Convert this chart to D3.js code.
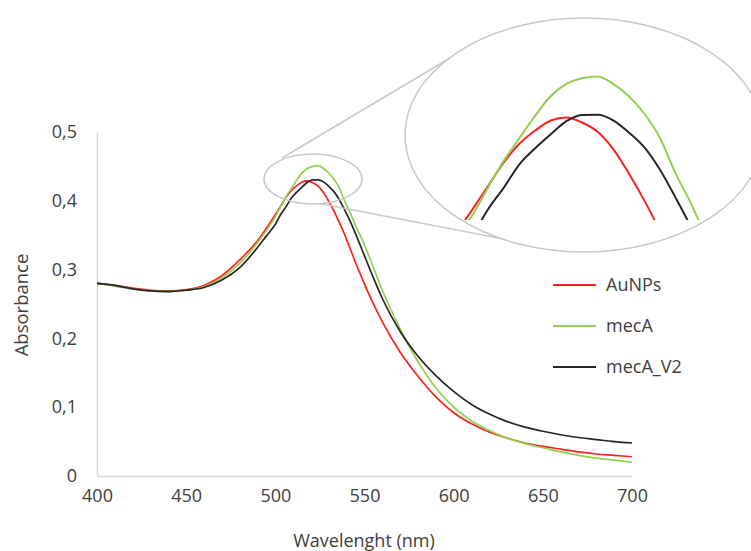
<!DOCTYPE html>
<html>
<head>
<meta charset="utf-8">
<script src="https://cdn.jsdelivr.net/npm/d3@7"></script>
<style>
  body { margin: 0; background: #fff; }
  text { font-family: "Open Sans", sans-serif; fill: #404040; }
</style>
</head>
<body>
<div id="chart"></div>
<script>
// wavelengths (nm), denser around the plasmon peak
const wavelengths = [400, 410, 420, 430, 440, 450, 460, 470, 480, 490, 495, 500, 503, 506, 509, 512, 515, 518, 521, 524, 527, 530, 533, 536, 539, 542, 545, 550, 555, 560, 570, 580, 590, 600, 610, 620, 630, 640, 650, 660, 670, 680, 690, 700]

const auNPs = [0.280, 0.277, 0.273, 0.270, 0.269, 0.271, 0.277, 0.291, 0.314, 0.342, 0.360, 0.380, 0.3925, 0.405, 0.415, 0.422, 0.4274, 0.429, 0.4263, 0.4213, 0.412, 0.399, 0.3844, 0.368, 0.350, 0.330, 0.310, 0.279, 0.250, 0.224, 0.180, 0.145, 0.115, 0.092, 0.076, 0.064, 0.055, 0.048, 0.043, 0.039, 0.035, 0.032, 0.030, 0.028]
const mecA = [0.280, 0.276, 0.272, 0.269, 0.268, 0.270, 0.275, 0.288, 0.309, 0.339, 0.357, 0.377, 0.3917, 0.406, 0.418, 0.430, 0.4405, 0.447, 0.4501, 0.451, 0.447, 0.4404, 0.431, 0.418, 0.399, 0.3826, 0.364, 0.336, 0.303, 0.270, 0.214, 0.166, 0.128, 0.100, 0.080, 0.066, 0.055, 0.047, 0.041, 0.035, 0.030, 0.026, 0.023, 0.020]
const mecA_V2 = [0.280, 0.277, 0.272, 0.269, 0.268, 0.270, 0.274, 0.285, 0.303, 0.332, 0.349, 0.366, 0.380, 0.3915, 0.404, 0.4125, 0.420, 0.427, 0.4303, 0.4305, 0.4275, 0.421, 0.413, 0.401, 0.386, 0.370, 0.352, 0.320, 0.288, 0.258, 0.210, 0.174, 0.146, 0.123, 0.104, 0.090, 0.079, 0.071, 0.065, 0.060, 0.056, 0.053, 0.050, 0.048]

const seriesNames = ["AuNPs", "mecA", "mecA_V2"]
const seriesColors = ["#ff2020", "#92d050", "#262626"]

const xTicks = [400, 450, 500, 550, 600, 650, 700]
const yTicks = [0, 0.1, 0.2, 0.3, 0.4, 0.5]
const yTickLabels = ["0", "0,1", "0,2", "0,3", "0,4", "0,5"]

const width = 751
const height = 551
const marginTop = 132
const marginRight = 119
const marginBottom = 75
const marginLeft = 97

const series = [auNPs, mecA, mecA_V2].map((values, k) => ({
    name: seriesNames[k],
    color: seriesColors[k],
    points: wavelengths.map((w, i) => [w, values[i]])
}))

const svg = d3.select("#chart")
    .append("svg")
    .attr("width", width)
    .attr("height", height)
    .attr("viewBox", [0, 0, width, height])

const x = d3.scaleLinear([400, 700], [marginLeft, width - marginRight])
const y = d3.scaleLinear([0, 0.5], [height - marginBottom, marginTop])

// axes: plain grey lines, no tick marks
svg.append("g")
    .attr("transform", `translate(${marginLeft},0)`)
    .call(d3.axisLeft(y).tickValues(yTicks).tickSize(0).tickPadding(20)
        .tickFormat((d, i) => yTickLabels[i]))
    .call(g => g.select(".domain").attr("stroke", "#d9d9d9").attr("stroke-width", 1.5))
    .call(g => g.selectAll("text").attr("font-size", 18).attr("font-family", "Open Sans").attr("fill", "#404040"))

svg.append("g")
    .attr("transform", `translate(0,${height - marginBottom})`)
    .call(d3.axisBottom(x).tickValues(xTicks).tickSize(0).tickPadding(13))
    .call(g => g.select(".domain").attr("stroke", "#d9d9d9").attr("stroke-width", 1.5))
    .call(g => g.selectAll("text").attr("font-size", 18).attr("font-family", "Open Sans").attr("fill", "#404040"))

svg.append("text")
    .attr("transform", `translate(28,305) rotate(-90)`)
    .attr("text-anchor", "middle")
    .attr("font-size", 18.5)
    .text("Absorbance")

svg.append("text")
    .attr("x", 364)
    .attr("y", 547)
    .attr("text-anchor", "middle")
    .attr("font-size", 18)
    .text("Wavelenght (nm)")

const line = d3.line()
    .x(d => x(d[0]))
    .y(d => y(d[1]))
    .curve(d3.curveMonotoneX)

svg.append("g")
    .selectAll("path")
    .data(series)
    .join("path")
    .attr("fill", "none")
    .attr("stroke", d => d.color)
    .attr("stroke-width", 1.7)
    .attr("d", d => line(d.points))

// magnifier: small ellipse on the peak, connectors, big ellipse with zoomed curves
const grey = "#c8c8c8"
svg.append("ellipse")
    .attr("cx", 313).attr("cy", 179).attr("rx", 49).attr("ry", 25)
    .attr("fill", "none").attr("stroke", grey).attr("stroke-width", 1.5)
svg.append("line")
    .attr("x1", 282).attr("y1", 158).attr("x2", 450).attr("y2", 58)
    .attr("stroke", grey).attr("stroke-width", 1.5)
svg.append("line")
    .attr("x1", 322).attr("y1", 204).attr("x2", 560).attr("y2", 250)
    .attr("stroke", grey).attr("stroke-width", 1.5)

const big = { cx: 584, cy: 135, rx: 179, ry: 117 }
const defs = svg.append("defs")
defs.append("clipPath").attr("id", "lens")
    .append("ellipse")
    .attr("cx", big.cx).attr("cy", big.cy).attr("rx", big.rx).attr("ry", big.ry)
defs.append("clipPath").attr("id", "cut")
    .append("rect")
    .attr("x", 0).attr("y", 0).attr("width", width).attr("height", 220)

svg.append("ellipse")
    .attr("cx", big.cx).attr("cy", big.cy).attr("rx", big.rx).attr("ry", big.ry)
    .attr("fill", "#fff").attr("stroke", grey).attr("stroke-width", 1.5)

const xz = d3.scaleLinear([498.5, 560], [465, 465 + 5.2 * 61.5])
const yz = d3.scaleLinear([0.374, 0.46], [220, 220 - 1864 * 0.086])
const lineZoom = d3.line()
    .x(d => xz(d[0]))
    .y(d => yz(d[1]))
    .curve(d3.curveMonotoneX)

svg.append("g")
    .attr("clip-path", "url(#lens)")
    .append("g")
    .attr("clip-path", "url(#cut)")
    .selectAll("path")
    .data(series)
    .join("path")
    .attr("fill", "none")
    .attr("stroke", d => d.color)
    .attr("stroke-width", 2)
    .attr("d", d => lineZoom(d.points))

// legend
const legend = svg.append("g")
    .selectAll("g")
    .data(series)
    .join("g")
    .attr("transform", (d, i) => `translate(553,${285 + i * 41})`)
legend.append("line")
    .attr("x1", 0).attr("x2", 43)
    .attr("stroke", d => d.color)
    .attr("stroke-width", 2)
legend.append("text")
    .attr("x", 53)
    .attr("y", 6)
    .attr("font-size", 18)
    .text(d => d.name)
</script>
</body>
</html>
